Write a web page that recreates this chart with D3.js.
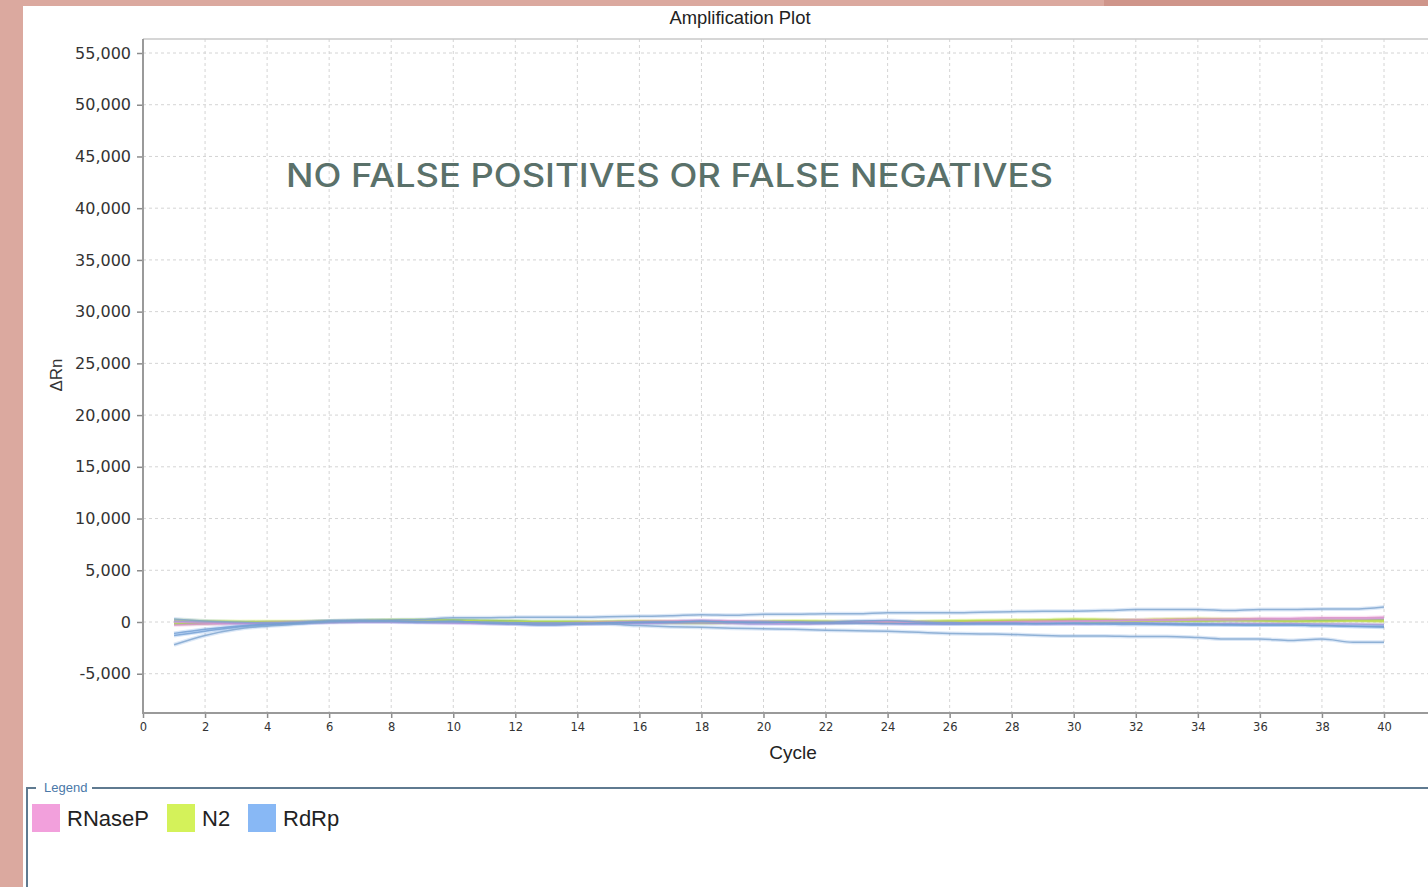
<!DOCTYPE html>
<html>
<head>
<meta charset="utf-8">
<script src="https://cdn.jsdelivr.net/npm/d3@7"></script>
<style>
  html, body { margin: 0; padding: 0; background: #dba99f; }
  svg { display: block; }
</style>
</head>
<body>
<div id="canvas"></div>
<script>
// cycles 1..40
var cycles = d3.range(1, 41);

var xTicks = [0, 2, 4, 6, 8, 10, 12, 14, 16, 18, 20, 22, 24, 26, 28, 30, 32, 34, 36, 38, 40];
var yTicks = [-5000, 0, 5000, 10000, 15000, 20000, 25000, 30000, 35000, 40000, 45000, 50000, 55000];

var targets = ['RNaseP', 'N2', 'RdRp'];
var targetColors = ['#f2a0dc', '#d4f25a', '#88b8f5'];

// delta Rn per well
var rdrpHigh = [300,100,0,-50,0,100,150,200,250,400,400,450,450,450,500,550,600,700,650,750,750,800,800,900,900,900,950,1000,1050,1050,1100,1200,1200,1200,1100,1200,1200,1250,1250,1450];
var rdrpLow = [-2200,-1300,-700,-400,-200,0,50,50,0,0,-50,-100,-150,-150,-200,-350,-450,-500,-600,-650,-700,-800,-850,-900,-1000,-1100,-1150,-1200,-1300,-1350,-1350,-1400,-1400,-1500,-1650,-1650,-1800,-1650,-1950,-1950];
var rdrpA = [-1100,-700,-400,-200,-100,50,100,100,50,100,-100,-200,-300,-200,-100,-50,0,100,0,-50,0,0,100,150,0,-50,-100,-100,-150,-100,-100,-100,-200,-200,-250,-300,-300,-350,-400,-500];
var rdrpB = [-1300,-900,-500,-300,-100,100,150,100,50,50,0,-50,-100,-100,-50,0,0,50,0,0,-50,-100,-100,-150,-150,-200,-200,-200,-150,-150,-200,-250,-250,-300,-300,-300,-300,-350,-400,-400];
var rnaseA = [-300,-200,-100,-50,0,50,100,100,50,0,-50,-100,-100,-50,0,50,100,150,100,50,0,-50,0,50,0,-50,0,50,100,100,150,200,250,300,300,350,350,400,400,450];
var rnaseB = [0,-100,-150,-100,-50,0,50,50,0,-50,-100,-150,-200,-150,-100,-50,0,50,0,-50,-100,-50,0,0,-50,-100,-100,-50,0,50,100,150,150,200,200,250,250,300,300,350];
var n2A = [-100,-50,0,50,50,100,150,200,200,150,100,50,0,0,50,100,50,0,0,50,100,50,0,-50,0,50,100,150,200,300,250,200,300,350,300,250,200,250,200,150];
var n2B = [200,100,50,0,0,50,100,150,150,100,50,0,-50,-50,0,0,-50,-100,-50,0,50,50,0,0,50,100,150,150,100,50,0,50,100,100,150,100,50,50,100,50];
var rdrpC = [100,0,-100,-150,-100,-50,0,0,-50,-100,-150,-200,-250,-200,-150,-150,-100,-100,-150,-200,-200,-150,-100,-150,-200,-200,-150,-150,-200,-200,-150,-100,-150,-200,-150,-150,-150,-200,-200,-250];
var n2C = [-200,-150,-100,-50,0,50,100,150,200,200,150,100,50,50,0,0,-50,-50,0,0,-50,-100,-50,0,0,50,50,100,150,200,200,150,100,100,150,150,100,150,200,250];

var wells = [
  { values: n2C, color: '#8fd07a' },
  { values: n2A, color: '#d4f25a' },
  { values: n2B, color: '#d4f25a' },
  { values: rnaseA, color: '#f2a0dc' },
  { values: rnaseB, color: '#e6a6f0' },
  { values: rdrpC, color: '#b4a6f0' },
  { values: rdrpA, color: '#7fb0ea' },
  { values: rdrpB, color: '#7fb0ea' },
  { values: rdrpHigh, color: '#8ab4e4' },
  { values: rdrpLow, color: '#8ab4e4' }
];

var W = 1428, H = 887;
var svg = d3.select('#canvas').append('svg').attr('width', W).attr('height', H);

// background frame
svg.append('rect').attr('x', 0).attr('y', 0).attr('width', W).attr('height', H).attr('fill', '#dba99f');
svg.append('rect').attr('x', 1104).attr('y', 0).attr('width', W - 1104).attr('height', 6).attr('fill', '#cf958a');
svg.append('rect').attr('x', 23).attr('y', 6).attr('width', W - 23).attr('height', H - 6).attr('fill', '#ffffff');

var plotLeft = 143, plotTop = 39, plotBottom = 713, plotRight = W;

var x = d3.scaleLinear().domain([0, 40]).range([143, 1384]);
var y = d3.scaleLinear().domain([0, 55000]).range([622, 53]);

var g = svg.append('g');

svg.append('clipPath').attr('id', 'plotclip').append('rect')
  .attr('x', plotLeft).attr('y', plotTop).attr('width', plotRight - plotLeft).attr('height', plotBottom - plotTop);

// grid
var grid = g.append('g').attr('clip-path', 'url(#plotclip)');
grid.selectAll('.vg').data(xTicks.concat([42])).enter().append('line')
  .attr('x1', function(d) { return x(d); }).attr('x2', function(d) { return x(d); })
  .attr('y1', plotTop).attr('y2', plotBottom)
  .attr('stroke', '#d4d4d4').attr('stroke-width', 1).attr('stroke-dasharray', '3,3');
grid.selectAll('.hg').data(yTicks).enter().append('line')
  .attr('x1', plotLeft).attr('x2', plotRight)
  .attr('y1', function(d) { return y(d); }).attr('y2', function(d) { return y(d); })
  .attr('stroke', '#d4d4d4').attr('stroke-width', 1).attr('stroke-dasharray', '3,3');

// top border
g.append('line').attr('x1', plotLeft).attr('x2', plotRight).attr('y1', plotTop).attr('y2', plotTop)
  .attr('stroke', '#c8c8c8').attr('stroke-width', 1.5);

// curves
var line = d3.line()
  .x(function(d, i) { return x(cycles[i]); })
  .y(function(d) { return y(d); })
  .curve(d3.curveMonotoneX);

var curves = g.append('g').attr('clip-path', 'url(#plotclip)');
wells.forEach(function(w) {
  curves.append('path')
    .attr('d', line(w.values))
    .attr('fill', 'none')
    .attr('stroke', w.color)
    .attr('stroke-opacity', 0.3)
    .attr('stroke-width', 4);
});
wells.forEach(function(w) {
  curves.append('path')
    .attr('d', line(w.values))
    .attr('fill', 'none')
    .attr('stroke', d3.color(w.color).darker(0.3))
    .attr('stroke-opacity', 0.8)
    .attr('stroke-width', 1.5);
});

// axes
var fmt = d3.format(',');
var yAxis = d3.axisLeft(y).tickValues(yTicks).tickSize(6).tickPadding(6)
  .tickFormat(function(d) { return fmt(d).replace('−', '-'); });
var yg = g.append('g').attr('transform', 'translate(' + plotLeft + ',0)').call(yAxis);
yg.select('.domain').remove();
yg.selectAll('line').attr('stroke', '#8c8c8c').attr('stroke-width', 1.5);
yg.selectAll('text').attr('font-family', 'DejaVu Sans, sans-serif')
  .attr('font-size', 16).attr('fill', '#333');

var xAxis = d3.axisBottom(x).tickValues(xTicks).tickSize(5).tickPadding(5)
  .tickFormat(d3.format('d'));
var xg = g.append('g').attr('transform', 'translate(0,' + plotBottom + ')').call(xAxis);
xg.select('.domain').remove();
xg.selectAll('line').attr('stroke', '#8c8c8c').attr('stroke-width', 1.5);
xg.selectAll('text').attr('font-family', 'DejaVu Sans, sans-serif')
  .attr('font-size', 11.5).attr('fill', '#333');

g.append('line').attr('x1', plotLeft).attr('x2', plotLeft).attr('y1', plotTop).attr('y2', plotBottom + 1)
  .attr('stroke', '#9a9a9a').attr('stroke-width', 2);
g.append('line').attr('x1', plotLeft).attr('x2', plotRight).attr('y1', plotBottom).attr('y2', plotBottom)
  .attr('stroke', '#9a9a9a').attr('stroke-width', 2);

// titles
svg.append('text').attr('x', 740).attr('y', 24).attr('text-anchor', 'middle')
  .attr('font-family', 'Liberation Sans, Arial, sans-serif').attr('font-size', 18.4)
  .attr('fill', '#222').text('Amplification Plot');
svg.append('text').attr('x', 793).attr('y', 759).attr('text-anchor', 'middle')
  .attr('font-family', 'Liberation Sans, Arial, sans-serif').attr('font-size', 19)
  .attr('fill', '#222').text('Cycle');
svg.append('text').attr('transform', 'translate(62,375) rotate(-90)').attr('text-anchor', 'middle')
  .attr('font-family', 'Liberation Sans, Arial, sans-serif').attr('font-size', 17)
  .attr('fill', '#333').text('ΔRn');

// overlay caption
svg.append('text').attr('x', 286).attr('y', 187)
  .attr('font-family', 'Inter, Open Sans, sans-serif').attr('font-size', 32)
  .attr('font-weight', 500).attr('fill', '#5a716a')
  .attr('textLength', 767).attr('lengthAdjust', 'spacingAndGlyphs')
  .text('NO FALSE POSITIVES OR FALSE NEGATIVES');

// legend
var lg = svg.append('g');
lg.append('path').attr('d', 'M27,887 V788 H36 M92,788 H' + W)
  .attr('fill', 'none').attr('stroke', '#5f7a90').attr('stroke-width', 2);
lg.append('text').attr('x', 44).attr('y', 792)
  .attr('font-family', 'Liberation Sans, Arial, sans-serif').attr('font-size', 13)
  .attr('fill', '#4a78a8').text('Legend');

var swatchX = [32, 167, 248];
var items = lg.selectAll('.item').data(targets).enter().append('g')
  .attr('transform', function(d, i) { return 'translate(' + swatchX[i] + ',804)'; });
items.append('rect').attr('width', 28).attr('height', 28)
  .attr('fill', function(d, i) { return targetColors[i]; });
items.append('text').attr('x', 35).attr('y', 22)
  .attr('font-family', 'Liberation Sans, Arial, sans-serif').attr('font-size', 22)
  .attr('fill', '#222').text(function(d) { return d; });
</script>
</body>
</html>
